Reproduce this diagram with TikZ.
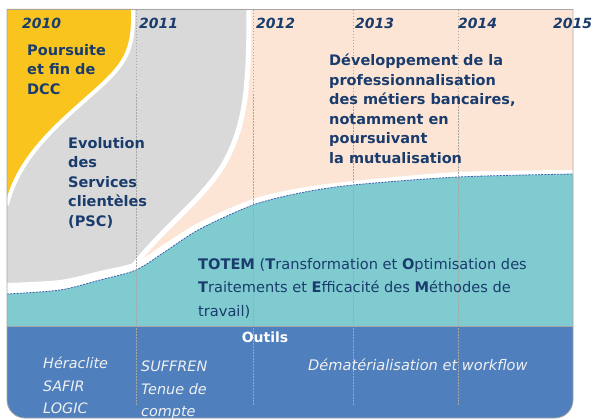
\documentclass[tikz,border=0pt]{standalone}
\usepackage{fontspec}
\setmainfont{DejaVu Sans}
\definecolor{navy}{HTML}{1A3C6C}
\definecolor{yellowzone}{HTML}{FAC41E}
\definecolor{grayzone}{HTML}{D9D9D9}
\definecolor{peachzone}{HTML}{FDE5D5}
\definecolor{tealzone}{HTML}{7FCBD0}
\definecolor{toolband}{HTML}{4F7FBD}
\definecolor{framegray}{HTML}{A6A6A6}
\definecolor{curveblue}{HTML}{3F5FAF}
\definecolor{tooltext}{HTML}{F0F0F0}
\begin{document}
\begin{tikzpicture}[x=1pt,y=-1pt,
  yearlabel/.style={anchor=base west,inner sep=0,text=navy,font=\fontsize{14}{16}\bfseries\itshape\selectfont},
  bigtitle/.style={anchor=north west,inner sep=0,text=navy,align=left,font=\fontsize{14.5}{19.5}\bfseries\selectfont},
  bodytext/.style={anchor=north west,inner sep=0,text=navy,align=left,font=\fontsize{14.6}{23.5}\selectfont},
  tooltxt/.style={anchor=north west,inner sep=0,text=tooltext,align=left,font=\fontsize{14.4}{22.5}\itshape\selectfont},
  yeargrid/.style={framegray,line width=0.7pt,dash pattern=on 1.5pt off 1.5pt}]
\useasboundingbox (0,0) rectangle (595,420);

% upper area background
\fill[peachzone] (7,9) rectangle (573,326);

% Services clientèles zone and its white edge
\fill[grayzone] (7,9) -- (249,9) .. controls (249,90) and (245,125) .. (225,162)
  .. controls (205,198) and (160,230) .. (132,268) -- (115,290) -- (7,300) -- cycle;
\draw[white,line width=5pt] (249,9) .. controls (249,90) and (245,125) .. (225,162)
  .. controls (205,198) and (160,230) .. (132,268) -- (115,290);

% DCC zone and its white edge
\fill[yellowzone] (7,9) -- (133,9) .. controls (134,45) and (128,60) .. (105,82)
  .. controls (70,115) and (20,150) .. (7,205) -- cycle;
\draw[white,line width=4pt] (133,9) .. controls (134,45) and (128,60) .. (105,82)
  .. controls (70,115) and (20,150) .. (7,205);

% white gap above the TOTEM zone
\fill[white] plot[smooth] coordinates {(7,283) (60,280) (100,271) (136,262) (166,243) (200,222) (253,199) (300,188) (353,181) (458,172) (573,170)} -- (573,326) -- (7,326) -- cycle;

% TOTEM zone
\fill[tealzone] plot[smooth] coordinates {(7,294) (60,290) (100,280) (136,270) (166,251) (200,229) (253,205) (300,193) (353,185) (458,177) (573,174)} -- (573,326) -- (7,326) -- cycle;
\draw[curveblue,line width=0.8pt,dash pattern=on 2pt off 1.2pt] plot[smooth] coordinates {(7,294) (60,290) (100,280) (136,270) (166,251) (200,229) (253,205) (300,193) (353,185) (458,177) (573,174)};

% tools band
\fill[toolband,rounded corners=18pt] (7,326) -- (7,418) -- (573,418) -- (573,326);
\draw[framegray,line width=0.8pt] (7,326) -- (573,326);

% year grid
\foreach \gx in {136,253,353,458}
  \draw[yeargrid] (\gx,10) -- (\gx,405);

% outer frame
\draw[framegray,line width=0.8pt] (7,9) -- (573,9);
\draw[framegray,line width=0.8pt,rounded corners=18pt] (7,9) -- (7,418) -- (573,418) -- (573,9);

% years
\node[yearlabel] (y2010) at (22,29) {2010};
\node[yearlabel] (y2011) at (139,29) {2011};
\node[yearlabel] (y2012) at (256,29) {2012};
\node[yearlabel] (y2013) at (355,29) {2013};
\node[yearlabel] (y2014) at (458,29) {2014};
\node[yearlabel] (y2015) at (553,29) {2015};

% zone titles
\node[bigtitle] (dcc) at (27,44) {Poursuite\\et fin de\\DCC};
\node[bigtitle] (psc) at (68,137) {Evolution\\des\\Services\\clientèles\\(PSC)};
\node[bigtitle] (metiers) at (329,54) {Développement  de la\\professionnalisation\\des métiers bancaires,\\notamment en\\poursuivant\\la mutualisation};
\node[bodytext] (totem) at (198,258) {\textbf{TOTEM} (\textbf{T}ransformation et \textbf{O}ptimisation des\\\textbf{T}raitements et \textbf{E}fficacité des \textbf{M}éthodes de\\travail)};

% tools
\node[anchor=base,inner sep=0,text=white,font=\fontsize{14}{16}\bfseries\selectfont] (outils) at (265,342) {Outils};
\node[tooltxt] (heraclite) at (43,357) {Héraclite\\SAFIR\\LOGIC};
\node[tooltxt] (suffren) at (141,361) {SUFFREN\\Tenue de\\compte};
\node[anchor=base west,inner sep=0,text=tooltext,font=\fontsize{14.6}{17}\itshape\selectfont] (demat) at (308,370) {Dématérialisation et workflow};
\end{tikzpicture}
\end{document}
